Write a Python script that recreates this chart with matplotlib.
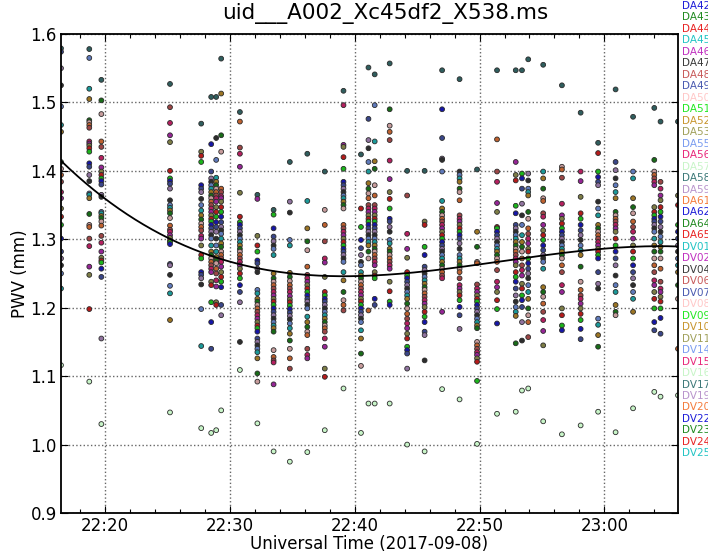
import matplotlib
matplotlib.use("Agg")
import matplotlib.pyplot as plt
import matplotlib.dates as mdates
from matplotlib.colors import to_rgb
from matplotlib.ticker import MultipleLocator
import numpy as np
from datetime import datetime

# ---------------------------------------------------------------------------
# Data
# ---------------------------------------------------------------------------
title = "uid___A002_Xc45df2_X538.ms"
obs_date = "2017-09-08"

antennas = ["DA42", "DA43", "DA44", "DA45", "DA46", "DA47", "DA48", "DA49",
            "DA50", "DA51", "DA52", "DA53", "DA55", "DA56", "DA57", "DA58",
            "DA59", "DA61", "DA62", "DA64", "DA65", "DV01", "DV02", "DV04",
            "DV06", "DV07", "DV08", "DV09", "DV10", "DV11", "DV14", "DV15",
            "DV16", "DV17", "DV19", "DV20", "DV22", "DV23", "DV24", "DV25"]

antenna_palette = ["#1c1cd8", "#1f8a1f", "#e82222", "#22c4c4", "#c030c0",
                   "#3a3a3a", "#c85a5a", "#4a5ab0", "#ffc8c8", "#22e822",
                   "#c8962e", "#a0a05a", "#7a9cf0", "#e8287a", "#c8f5c8",
                   "#3c7878", "#b894cc", "#f47c3c"]

scan_times = ["22:16:28", "22:18:44", "22:19:42", "22:25:12", "22:27:42",
              "22:28:30", "22:28:54", "22:29:18", "22:30:48", "22:32:12",
              "22:33:30", "22:34:48", "22:36:12", "22:37:36", "22:39:06",
              "22:40:30", "22:41:06", "22:41:36", "22:42:48", "22:44:12",
              "22:45:36", "22:47:00", "22:48:24", "22:49:48", "22:51:24",
              "22:52:54", "22:53:24", "22:53:54", "22:55:06", "22:56:36",
              "22:58:06", "22:59:30", "23:00:54", "23:02:18", "23:04:00",
              "23:04:30", "23:05:54"]

# PWV (mm) per scan, all antennas
scan01 = [1.579, 1.574, 1.550, 1.525, 1.494, 1.467, 1.457, 1.413, 1.403, 1.394,
          1.384, 1.369, 1.360, 1.345, 1.333, 1.321, 1.301, 1.282, 1.272, 1.262,
          1.250, 1.228, 1.116]
scan02 = [1.578, 1.565, 1.520, 1.505, 1.474, 1.471, 1.467, 1.463, 1.443, 1.440,
          1.437, 1.433, 1.428, 1.411, 1.406, 1.394, 1.385, 1.367, 1.365, 1.360,
          1.337, 1.321, 1.318, 1.301, 1.290, 1.260, 1.248, 1.198, 1.092]
scan03 = [1.533, 1.503, 1.483, 1.443, 1.435, 1.419, 1.405, 1.399, 1.394, 1.389,
          1.385, 1.380, 1.365, 1.362, 1.340, 1.338, 1.334, 1.331, 1.326, 1.320,
          1.305, 1.295, 1.282, 1.273, 1.269, 1.266, 1.257, 1.245, 1.155, 1.030]
scan04 = [1.527, 1.493, 1.470, 1.452, 1.442, 1.400, 1.389, 1.385, 1.381, 1.374,
          1.357, 1.350, 1.346, 1.342, 1.338, 1.331, 1.320, 1.314, 1.311, 1.306,
          1.302, 1.298, 1.296, 1.293, 1.264, 1.262, 1.248, 1.232, 1.221, 1.182,
          1.047]
scan05 = [1.469, 1.428, 1.422, 1.413, 1.379, 1.374, 1.369, 1.359, 1.350, 1.342,
          1.335, 1.329, 1.323, 1.318, 1.313, 1.305, 1.301, 1.291, 1.277, 1.272,
          1.252, 1.248, 1.243, 1.234, 1.198, 1.144, 1.024]
scan06 = [1.508, 1.439, 1.399, 1.389, 1.384, 1.379, 1.374, 1.369, 1.364, 1.360,
          1.355, 1.350, 1.345, 1.340, 1.335, 1.330, 1.326, 1.321, 1.316, 1.311,
          1.306, 1.301, 1.291, 1.282, 1.277, 1.272, 1.267, 1.262, 1.257, 1.252,
          1.238, 1.233, 1.208, 1.179, 1.140, 1.017]
scan07 = [1.508, 1.448, 1.416, 1.390, 1.384, 1.379, 1.374, 1.369, 1.364, 1.360,
          1.355, 1.347, 1.340, 1.333, 1.325, 1.318, 1.311, 1.301, 1.291, 1.282,
          1.274, 1.269, 1.265, 1.257, 1.250, 1.240, 1.231, 1.208, 1.204, 1.021]
scan08 = [1.564, 1.513, 1.452, 1.428, 1.374, 1.369, 1.363, 1.360, 1.355, 1.347,
          1.340, 1.333, 1.325, 1.318, 1.313, 1.308, 1.301, 1.294, 1.289, 1.282,
          1.277, 1.272, 1.267, 1.260, 1.252, 1.245, 1.238, 1.230, 1.204, 1.189,
          1.050]
scan09 = [1.486, 1.472, 1.434, 1.425, 1.406, 1.368, 1.333, 1.325, 1.321, 1.316,
          1.311, 1.306, 1.301, 1.296, 1.291, 1.286, 1.282, 1.277, 1.272, 1.267,
          1.262, 1.257, 1.250, 1.243, 1.233, 1.223, 1.208, 1.150, 1.109]
scan10 = [1.365, 1.359, 1.305, 1.291, 1.282, 1.269, 1.265, 1.257, 1.252, 1.226,
          1.221, 1.213, 1.209, 1.204, 1.199, 1.194, 1.189, 1.184, 1.179, 1.174,
          1.170, 1.165, 1.155, 1.150, 1.145, 1.140, 1.135, 1.126, 1.104, 1.092,
          1.031]
scan11 = [1.343, 1.336, 1.316, 1.304, 1.297, 1.291, 1.286, 1.277, 1.250, 1.243,
          1.238, 1.233, 1.228, 1.223, 1.218, 1.213, 1.209, 1.204, 1.199, 1.194,
          1.189, 1.184, 1.179, 1.174, 1.170, 1.165, 1.138, 1.128, 1.123, 1.120,
          1.088, 0.990]
scan12 = [1.413, 1.355, 1.339, 1.299, 1.291, 1.251, 1.245, 1.239, 1.233, 1.228,
          1.223, 1.217, 1.212, 1.208, 1.203, 1.198, 1.193, 1.188, 1.183, 1.177,
          1.170, 1.162, 1.152, 1.140, 1.126, 1.111, 0.975]
scan13 = [1.425, 1.356, 1.316, 1.297, 1.284, 1.260, 1.248, 1.243, 1.238, 1.233,
          1.228, 1.223, 1.218, 1.213, 1.209, 1.204, 1.199, 1.187, 1.179, 1.172,
          1.165, 1.160, 1.140, 1.131, 1.126, 0.989]
scan14 = [1.399, 1.343, 1.321, 1.297, 1.272, 1.266, 1.245, 1.223, 1.218, 1.213,
          1.209, 1.204, 1.199, 1.194, 1.189, 1.184, 1.179, 1.174, 1.170, 1.165,
          1.155, 1.143, 1.111, 1.099, 1.021]
scan15 = [1.517, 1.496, 1.438, 1.435, 1.420, 1.403, 1.384, 1.379, 1.374, 1.369,
          1.364, 1.360, 1.355, 1.350, 1.345, 1.321, 1.316, 1.311, 1.306, 1.301,
          1.296, 1.291, 1.286, 1.282, 1.277, 1.272, 1.267, 1.252, 1.240, 1.223,
          1.211, 1.204, 1.196, 1.082]
scan16 = [1.424, 1.345, 1.318, 1.299, 1.287, 1.277, 1.267, 1.262, 1.252, 1.247,
          1.243, 1.238, 1.233, 1.228, 1.223, 1.218, 1.213, 1.209, 1.204, 1.199,
          1.194, 1.189, 1.184, 1.179, 1.167, 1.155, 1.133, 1.115, 1.017]
scan17 = [1.551, 1.476, 1.445, 1.433, 1.413, 1.399, 1.382, 1.374, 1.367, 1.360,
          1.350, 1.345, 1.340, 1.335, 1.330, 1.326, 1.321, 1.316, 1.311, 1.306,
          1.301, 1.296, 1.291, 1.282, 1.272, 1.196, 1.060]
scan18 = [1.541, 1.496, 1.443, 1.414, 1.403, 1.379, 1.364, 1.350, 1.345, 1.340,
          1.335, 1.330, 1.326, 1.321, 1.316, 1.311, 1.306, 1.301, 1.296, 1.291,
          1.286, 1.282, 1.277, 1.272, 1.267, 1.262, 1.252, 1.247, 1.243, 1.213,
          1.204, 1.060]
scan19 = [1.557, 1.490, 1.466, 1.457, 1.445, 1.415, 1.388, 1.369, 1.359, 1.345,
          1.330, 1.326, 1.318, 1.311, 1.299, 1.294, 1.286, 1.282, 1.277, 1.272,
          1.267, 1.262, 1.257, 1.238, 1.224, 1.209, 1.204, 1.060]
scan20 = [1.400, 1.364, 1.308, 1.286, 1.273, 1.252, 1.247, 1.243, 1.238, 1.233,
          1.228, 1.223, 1.218, 1.213, 1.206, 1.199, 1.191, 1.184, 1.177, 1.170,
          1.162, 1.155, 1.143, 1.138, 1.133, 1.111, 1.000]
scan21 = [1.400, 1.326, 1.321, 1.289, 1.277, 1.260, 1.255, 1.250, 1.245, 1.240,
          1.235, 1.230, 1.226, 1.221, 1.216, 1.211, 1.206, 1.201, 1.194, 1.187,
          1.179, 1.165, 1.160, 1.123, 0.990]
scan22 = [1.547, 1.490, 1.448, 1.418, 1.416, 1.399, 1.356, 1.345, 1.340, 1.335,
          1.330, 1.326, 1.321, 1.316, 1.311, 1.306, 1.301, 1.296, 1.291, 1.286,
          1.282, 1.277, 1.272, 1.267, 1.262, 1.257, 1.252, 1.247, 1.243, 1.194,
          1.081]
scan23 = [1.534, 1.399, 1.394, 1.389, 1.384, 1.374, 1.369, 1.357, 1.335, 1.330,
          1.326, 1.321, 1.316, 1.311, 1.306, 1.301, 1.294, 1.286, 1.277, 1.272,
          1.267, 1.262, 1.257, 1.252, 1.243, 1.233, 1.228, 1.223, 1.218, 1.211,
          1.201, 1.189, 1.169, 1.066]
scan24 = [1.402, 1.311, 1.289, 1.267, 1.265, 1.234, 1.228, 1.223, 1.218, 1.213,
          1.209, 1.204, 1.199, 1.194, 1.189, 1.184, 1.179, 1.174, 1.170, 1.150,
          1.145, 1.140, 1.135, 1.131, 1.126, 1.121, 1.093, 1.001]
scan25 = [1.547, 1.446, 1.399, 1.384, 1.353, 1.340, 1.318, 1.316, 1.311, 1.306,
          1.301, 1.296, 1.291, 1.286, 1.282, 1.277, 1.272, 1.267, 1.255, 1.238,
          1.230, 1.223, 1.211, 1.198, 1.177, 1.045]
scan26 = [1.547, 1.413, 1.394, 1.386, 1.349, 1.338, 1.321, 1.316, 1.311, 1.306,
          1.301, 1.296, 1.291, 1.286, 1.282, 1.277, 1.272, 1.267, 1.262, 1.252,
          1.245, 1.238, 1.228, 1.218, 1.209, 1.201, 1.194, 1.188, 1.148, 1.048]
scan27 = [1.547, 1.396, 1.389, 1.374, 1.352, 1.335, 1.321, 1.306, 1.296, 1.289,
          1.282, 1.272, 1.262, 1.255, 1.247, 1.235, 1.228, 1.218, 1.211, 1.201,
          1.179, 1.152, 1.079]
scan28 = [1.563, 1.396, 1.386, 1.374, 1.369, 1.364, 1.340, 1.330, 1.316, 1.308,
          1.301, 1.294, 1.286, 1.282, 1.272, 1.265, 1.257, 1.250, 1.243, 1.233,
          1.223, 1.213, 1.199, 1.189, 1.179, 1.157, 1.082]
scan29 = [1.555, 1.399, 1.389, 1.374, 1.360, 1.356, 1.338, 1.333, 1.321, 1.313,
          1.306, 1.299, 1.291, 1.284, 1.277, 1.272, 1.267, 1.257, 1.230, 1.223,
          1.216, 1.206, 1.194, 1.182, 1.166, 1.145, 1.034]
scan30 = [1.525, 1.406, 1.402, 1.390, 1.352, 1.335, 1.330, 1.323, 1.316, 1.311,
          1.306, 1.301, 1.296, 1.291, 1.286, 1.282, 1.277, 1.272, 1.262, 1.252,
          1.233, 1.223, 1.199, 1.189, 1.174, 1.167, 1.015]
scan31 = [1.485, 1.399, 1.385, 1.362, 1.338, 1.330, 1.321, 1.313, 1.306, 1.299,
          1.291, 1.284, 1.277, 1.260, 1.238, 1.226, 1.218, 1.213, 1.206, 1.199,
          1.191, 1.182, 1.169, 1.154, 1.028]
scan32 = [1.441, 1.426, 1.399, 1.391, 1.384, 1.379, 1.355, 1.345, 1.335, 1.321,
          1.316, 1.311, 1.306, 1.301, 1.296, 1.291, 1.286, 1.282, 1.277, 1.272,
          1.252, 1.235, 1.228, 1.184, 1.175, 1.160, 1.143, 1.048]
scan33 = [1.519, 1.413, 1.401, 1.389, 1.379, 1.369, 1.360, 1.340, 1.335, 1.330,
          1.326, 1.321, 1.316, 1.311, 1.301, 1.291, 1.282, 1.272, 1.262, 1.247,
          1.233, 1.223, 1.204, 1.194, 1.189, 1.018]
scan34 = [1.479, 1.399, 1.389, 1.360, 1.347, 1.338, 1.326, 1.318, 1.311, 1.301,
          1.291, 1.282, 1.272, 1.262, 1.252, 1.243, 1.233, 1.223, 1.213, 1.194,
          1.053]
scan35 = [1.492, 1.416, 1.399, 1.394, 1.389, 1.384, 1.379, 1.347, 1.340, 1.335,
          1.330, 1.326, 1.321, 1.316, 1.311, 1.301, 1.291, 1.282, 1.272, 1.262,
          1.252, 1.240, 1.233, 1.223, 1.213, 1.199, 1.179, 1.167, 1.077]
scan36 = [1.472, 1.384, 1.374, 1.364, 1.357, 1.347, 1.340, 1.333, 1.326, 1.318,
          1.311, 1.304, 1.296, 1.289, 1.282, 1.272, 1.257, 1.238, 1.228, 1.223,
          1.216, 1.209, 1.199, 1.185, 1.162, 1.070]
scan37 = [1.472, 1.364, 1.350, 1.321, 1.311, 1.301, 1.291, 1.282, 1.272, 1.262,
          1.252, 1.233, 1.213, 1.140, 1.072]

scan_pwv = [scan01, scan02, scan03, scan04, scan05, scan06, scan07, scan08,
            scan09, scan10, scan11, scan12, scan13, scan14, scan15, scan16,
            scan17, scan18, scan19, scan20, scan21, scan22, scan23, scan24,
            scan25, scan26, scan27, scan28, scan29, scan30, scan31, scan32,
            scan33, scan34, scan35, scan36, scan37]

# Smooth polynomial trend of the array-median PWV
fit_times = ["22:16:28", "22:25:12", "22:29:12", "22:34:48", "22:39:30",
             "22:44:00", "22:53:15", "23:02:30", "23:05:54"]
fit_pwv = [1.415, 1.301, 1.270, 1.250, 1.247, 1.252, 1.270, 1.289, 1.290]


def to_num(hms):
    h, m, s = (int(v) for v in hms.split(":"))
    return mdates.date2num(datetime(2017, 9, 8, h, m, s))


def shade(c, f=0.78):
    r, g, b = to_rgb(c)
    return (r * f, g * f, b * f)


# ---------------------------------------------------------------------------
# Figure
# ---------------------------------------------------------------------------
W, H, DPI = 708, 555, 100
fig = plt.figure(figsize=(W / DPI, H / DPI), dpi=DPI)
ax = fig.add_axes([61 / W, 1 - 513 / H, (678 - 61) / W, (513 - 34) / H])

n_pal = len(antenna_palette)
teal = antenna_palette[15]
pale_green = antenna_palette[14]
others = [c for i, c in enumerate(antenna_palette) if i not in (14, 15)]

for j, (t, vals) in enumerate(zip(scan_times, scan_pwv)):
    x = to_num(t)
    cols = []
    for k in range(len(vals)):
        if k == 0:
            cols.append(shade(teal))
        elif k == len(vals) - 1:
            cols.append(pale_green)
        else:
            cols.append(shade(others[(k * 7 + j * 5) % len(others)]))
    ax.scatter([x] * len(vals), vals, s=12, c=cols, edgecolors="#2a2a2a",
               linewidths=0.6, zorder=2, clip_on=True)

# trend curve
ft = np.array([to_num(t) for t in fit_times])
t0 = ft[0]
coef = np.polyfit((ft - t0) * 1440.0, fit_pwv, 3)
tt = np.linspace(ft[0], ft[-1], 300)
ax.plot(tt, np.polyval(coef, (tt - t0) * 1440.0), color="black", lw=1.3,
        zorder=3)

ax.set_xlim(to_num(scan_times[0]), to_num(scan_times[-1]))
ax.set_ylim(0.9, 1.6)

ax.xaxis.set_major_locator(mdates.MinuteLocator(byminute=range(0, 60, 10)))
ax.xaxis.set_minor_locator(mdates.MinuteLocator(byminute=range(0, 60, 2)))
ax.xaxis.set_major_formatter(mdates.DateFormatter("%H:%M"))
ax.yaxis.set_major_locator(MultipleLocator(0.1))

ax.tick_params(which="both", direction="in", top=True, right=True,
               labelsize=12, colors="black")
ax.tick_params(which="major", length=5, width=0.8, pad=3)
ax.tick_params(which="minor", length=3, width=0.8)
for sp in ax.spines.values():
    sp.set_linewidth(1.3)

ax.grid(True, which="major", linestyle=":", color="#666666", linewidth=1.0)
ax.set_axisbelow(True)

ax.set_xlabel(f"Universal Time ({obs_date})", fontsize=12, labelpad=0)
ax.set_ylabel("PWV (mm)", fontsize=12, labelpad=1)
fig.text(385 / W, 1 - 14 / H, title, fontsize=15.5, ha="center", va="center")

# antenna colour key along the right edge
for i, name in enumerate(antennas):
    y_px = 6 + i * 11.47
    fig.text(682 / W, 1 - y_px / H, name, color=antenna_palette[i % n_pal],
             fontsize=7.5, ha="left", va="center")

fig.savefig("out.png", dpi=DPI)
